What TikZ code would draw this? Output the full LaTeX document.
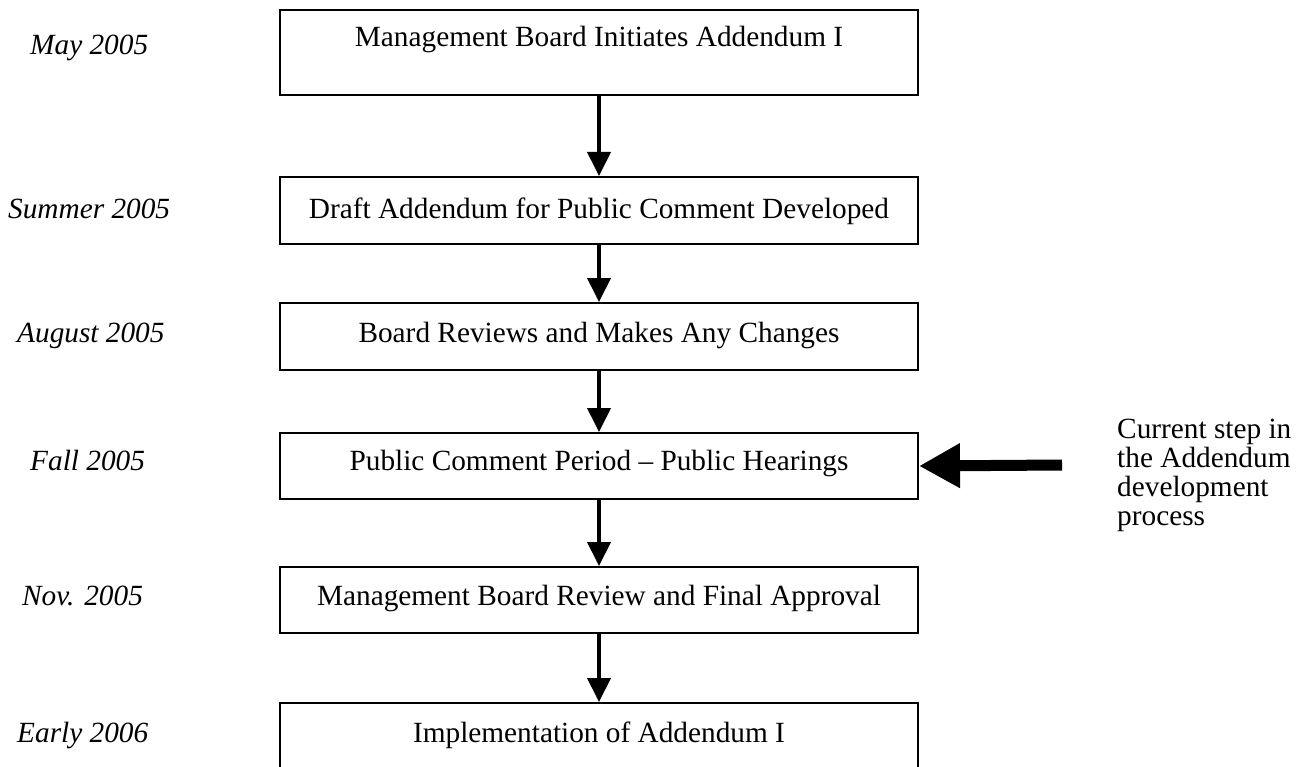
\documentclass[tikz,border=0pt]{standalone}
\usepackage{fontspec}
\setmainfont{Liberation Serif}
\usetikzlibrary{arrows.meta}

\begin{document}
\begin{tikzpicture}[
x=1pt, y=-1pt,
StepBox/.style={draw=black, line width=2pt, anchor=base, minimum width=638pt, inner xsep=0pt, inner ysep=0pt, font=\fontsize{29.3}{33}\selectfont},
DateLabel/.style={anchor=base west, inner sep=0pt, font=\fontsize{29.3}{33}\selectfont\itshape},
NoteText/.style={anchor=north west, align=left, inner sep=0pt, font=\fontsize{29.3}{29}\selectfont},
FlowArrow/.style={-{Triangle[length=24pt, width=23pt]}, line width=4pt},
NowArrow/.style={-{Triangle[length=41pt, width=42pt]}, line width=11pt}
]
\useasboundingbox (0,0) rectangle (1308,767);

% the steps
\node[StepBox, text height=37pt, text depth=48pt] (b1) at (599,47) {Management Board Initiates Addendum I};
\node[StepBox, text height=42pt, text depth=25pt] (b2) at (599,219) {Draft Addendum for Public Comment Developed};
\node[StepBox, text height=39pt, text depth=28pt] (b3) at (599,342) {Board Reviews and Makes Any Changes};
\node[StepBox, text height=37pt, text depth=29pt] (b4) at (599,470) {Public Comment Period -- Public Hearings};
\node[StepBox, text height=38pt, text depth=28pt] (b5) at (599,605) {Management Board Review and Final Approval};
\node[StepBox, text height=39pt, text depth=58pt] (b6) at (599,742) {Implementation of Addendum I};

% the dates
\node[DateLabel] (d1) at (30,55) {May 2005};
\node[DateLabel] (d2) at (8,219) {Summer 2005};
\node[DateLabel] (d3) at (17,342) {August 2005};
\node[DateLabel] (d4) at (30,470) {Fall 2005};
\node[DateLabel] (d5) at (22,605) {Nov. 2005};
\node[DateLabel] (d6) at (17,742) {Early 2006};

\draw[FlowArrow] (b1.south) -- (b2.north);
\draw[FlowArrow] (b2.south) -- (b3.north);
\draw[FlowArrow] (b3.south) -- (b4.north);
\draw[FlowArrow] (b4.south) -- (b5.north);
\draw[FlowArrow] (b5.south) -- (b6.north);

% where we are now
\node[NoteText] (note) at (1117,419) {Current step in\\the Addendum\\development\\process};
\coordinate (nowtail) at (1062,465);
\draw[NowArrow] (nowtail) -- (b4.east);

\end{tikzpicture}
\end{document}
